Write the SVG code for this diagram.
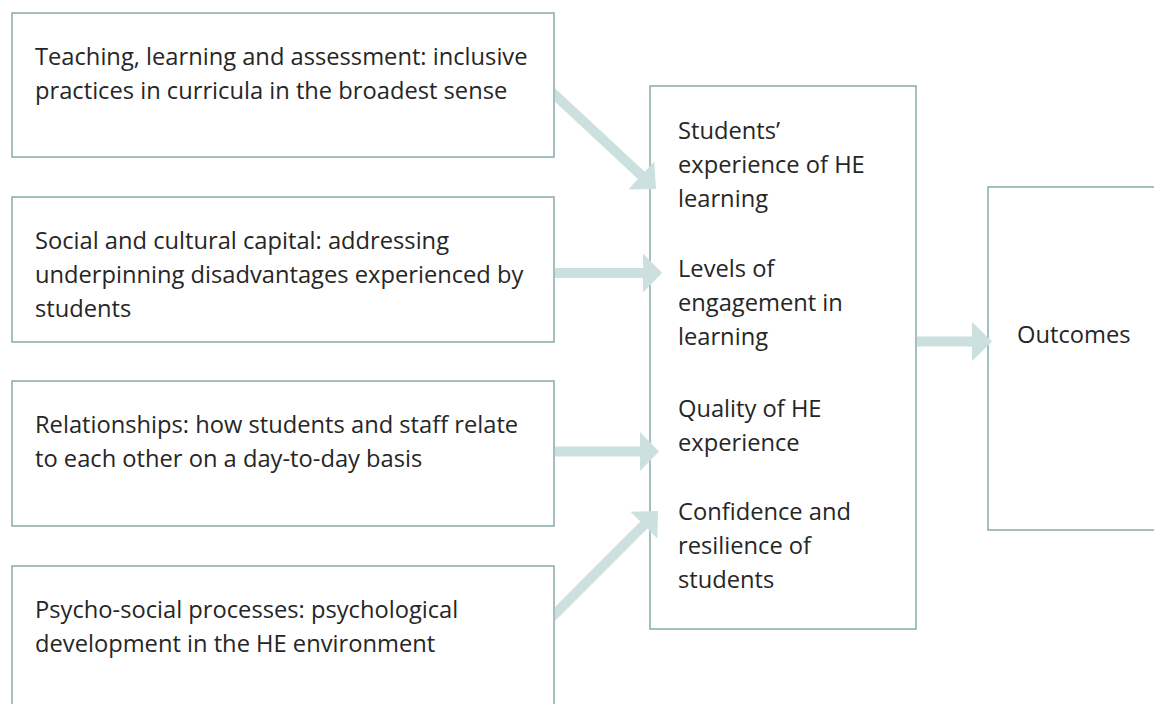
<svg xmlns="http://www.w3.org/2000/svg" width="1154" height="704" viewBox="0 0 1154 704">
<style>
.box{fill:none;stroke:#8fb0ae;stroke-width:1.6}
.t{font-family:"Open Sans","Noto Sans",sans-serif;font-size:23.7px;fill:#262626}
.arr{fill:#cbe0df}
</style>
<rect width="1154" height="704" fill="#ffffff"/>
<g id="node-teaching">
<rect class="box" x="12" y="13" width="542" height="144"/>
<text class="t" x="35" y="65">Teaching, learning and assessment: inclusive</text>
<text class="t" x="35" y="99">practices in curricula in the broadest sense</text>
</g>
<g id="node-social">
<rect class="box" x="12" y="197" width="542" height="145"/>
<text class="t" x="35" y="249">Social and cultural capital: addressing</text>
<text class="t" x="35" y="283">underpinning disadvantages experienced by</text>
<text class="t" x="35" y="317">students</text>
</g>
<g id="node-relationships">
<rect class="box" x="12" y="381" width="542" height="145"/>
<text class="t" x="35" y="433">Relationships: how students and staff relate</text>
<text class="t" x="35" y="467">to each other on a day-to-day basis</text>
</g>
<g id="node-psycho">
<rect class="box" x="12" y="566" width="542" height="150"/>
<text class="t" x="35" y="618">Psycho-social processes: psychological</text>
<text class="t" x="35" y="652">development in the HE environment</text>
</g>
<g id="node-experience">
<rect class="box" x="650" y="86" width="266" height="543"/>
<text class="t" x="678" y="139">Students’</text>
<text class="t" x="678" y="173">experience of HE</text>
<text class="t" x="678" y="207">learning</text>
<text class="t" x="678" y="277">Levels of</text>
<text class="t" x="678" y="311">engagement in</text>
<text class="t" x="678" y="345">learning</text>
<text class="t" x="678" y="417">Quality of HE</text>
<text class="t" x="678" y="451">experience</text>
<text class="t" x="678" y="520">Confidence and</text>
<text class="t" x="678" y="554">resilience of</text>
<text class="t" x="678" y="588">students</text>
</g>
<g id="node-outcomes">
<rect class="box" x="988" y="187" width="180" height="343"/>
<text class="t" x="1017" y="343">Outcomes</text>
</g>
<g id="connectors">
<polygon class="arr" points="555,88.2 644.7,171.7 654.2,161.4 656,189 628.4,189.4 637.9,179.1 555,101.8"/>
<polygon class="arr" points="555,268 643,268 643,253.5 662,273 643,292.5 643,278 555,278"/>
<polygon class="arr" points="555,446.5 640,446.5 640,432 659,451.5 640,471 640,456.5 555,456.5"/>
<polygon class="arr" points="555,607 640.4,521.6 630.5,511.7 658,511 657.3,538.5 647.4,528.6 555,621"/>
<polygon class="arr" points="917,336.5 972,336.5 972,322 992,341.5 972,361 972,346.5 917,346.5"/>
</g>
</svg>
